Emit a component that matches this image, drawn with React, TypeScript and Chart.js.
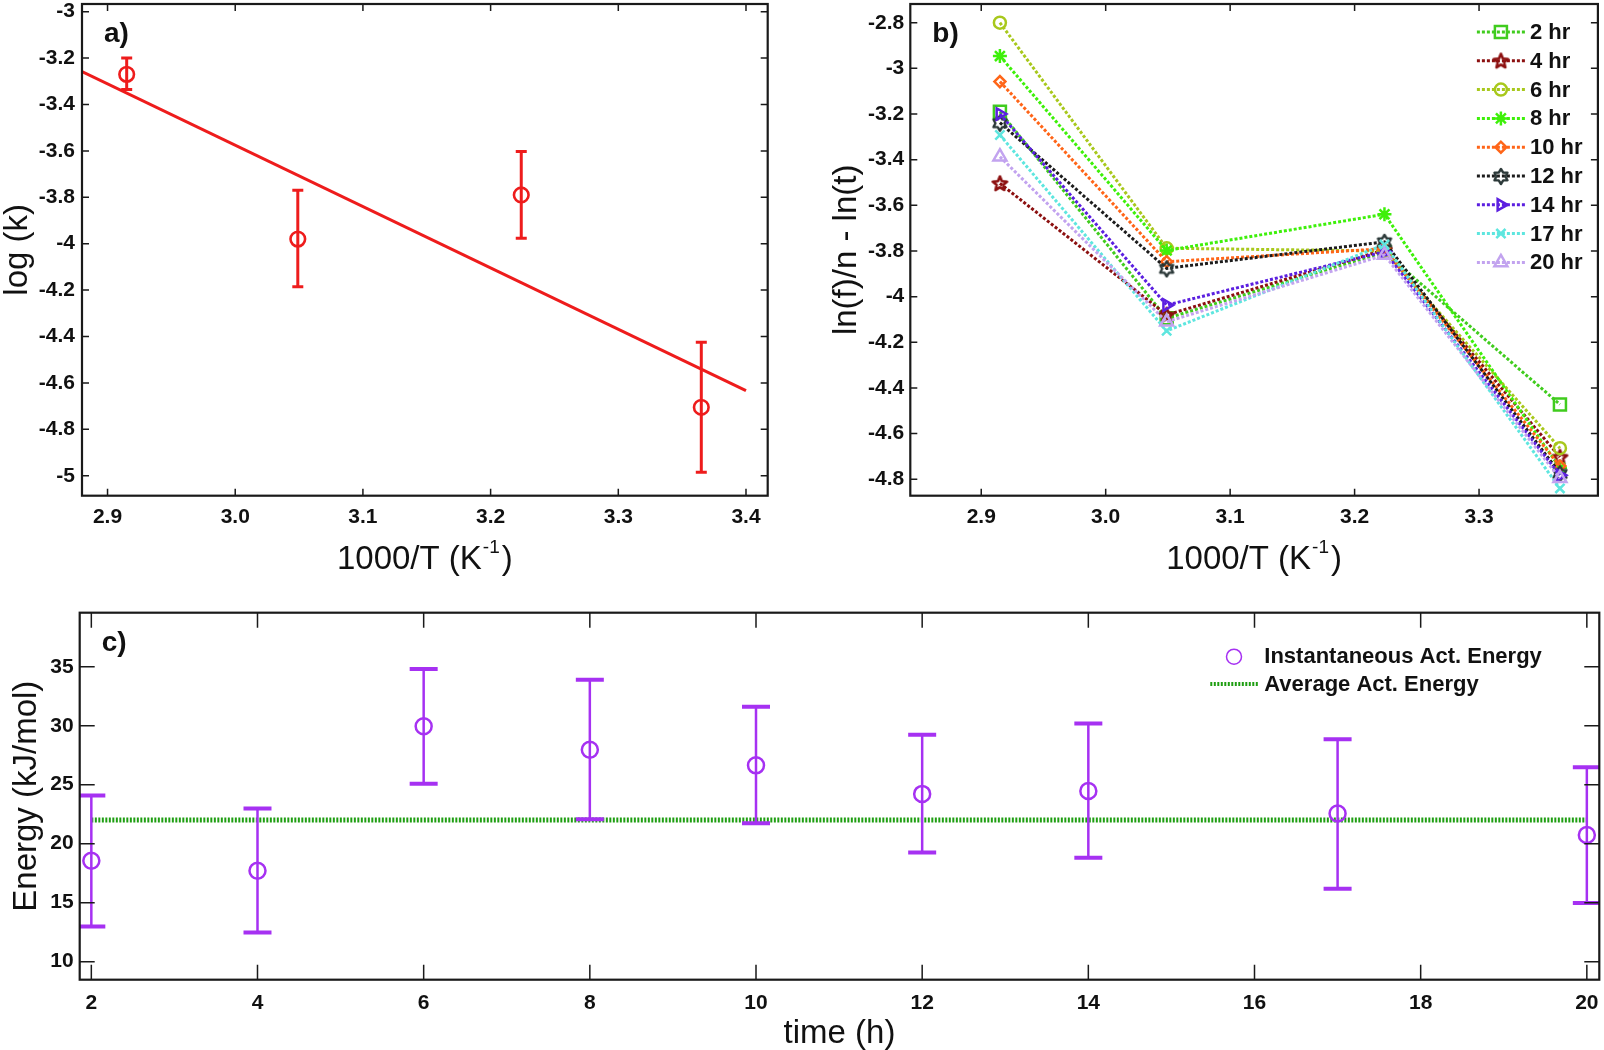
import { useEffect, useRef } from 'react'
import { Chart, registerables } from 'chart.js'
import { drawPoint } from 'chart.js/helpers'

Chart.register(...registerables)

// ---------- panel a: log(k) vs 1000/T ----------
const invT = [2.915, 3.049, 3.224, 3.365]
const logK = [-3.27, -3.98, -3.79, -4.705]
const logKLow = [-3.335, -4.185, -3.977, -4.985]
const logKHigh = [-3.2, -3.77, -3.603, -4.425]
const fitInvT = [2.88, 3.4]
const fitLogK = [-3.258, -4.633]
const aXTicks = [2.9, 3.0, 3.1, 3.2, 3.3, 3.4]
const aXLabels = ['2.9', '3.0', '3.1', '3.2', '3.3', '3.4']
const aYTicks = [-3, -3.2, -3.4, -3.6, -3.8, -4, -4.2, -4.4, -4.6, -4.8, -5]
const aYLabels = ['-3', '-3.2', '-3.4', '-3.6', '-3.8', '-4', '-4.2', '-4.4', '-4.6', '-4.8', '-5']

// ---------- panel b: ln(f)/n - ln(t) per reaction time ----------
const hourLabels = ['2 hr', '4 hr', '6 hr', '8 hr', '10 hr', '12 hr', '14 hr', '17 hr', '20 hr']
const lnf2hr = [-3.19, -4.095, -3.805, -4.472]
const lnf4hr = [-3.504, -4.08, -3.795, -4.703]
const lnf6hr = [-2.8, -3.788, -3.8, -4.664]
const lnf8hr = [-2.946, -3.798, -3.639, -4.75]
const lnf10hr = [-3.058, -3.847, -3.79, -4.742]
const lnf12hr = [-3.238, -3.876, -3.76, -4.774]
const lnf14hr = [-3.2, -4.037, -3.803, -4.782]
const lnf17hr = [-3.292, -4.15, -3.772, -4.84]
const lnf20hr = [-3.387, -4.11, -3.818, -4.796]
const bXTicks = [2.9, 3.0, 3.1, 3.2, 3.3]
const bXLabels = ['2.9', '3.0', '3.1', '3.2', '3.3']
const bYTicks = [-2.8, -3, -3.2, -3.4, -3.6, -3.8, -4, -4.2, -4.4, -4.6, -4.8]
const bYLabels = ['-2.8', '-3', '-3.2', '-3.4', '-3.6', '-3.8', '-4', '-4.2', '-4.4', '-4.6', '-4.8']

// ---------- panel c: activation energy vs time ----------
const timeH = [2, 4, 6, 8, 10, 12, 14, 17, 20]
const energy = [18.56, 17.71, 29.96, 27.96, 26.64, 24.22, 24.47, 22.56, 20.73]
const energyLow = [12.98, 12.48, 25.09, 22.08, 21.74, 19.26, 18.81, 16.19, 14.98]
const energyHigh = [24.08, 22.98, 34.8, 33.9, 31.6, 29.23, 30.19, 28.86, 26.47]
const avgTime = [2, 20]
const avgEnergy = [22, 22]
const cXTicks = [2, 4, 6, 8, 10, 12, 14, 16, 18, 20]
const cXLabels = ['2', '4', '6', '8', '10', '12', '14', '16', '18', '20']
const cYTicks = [10, 15, 20, 25, 30, 35]
const cYLabels = ['10', '15', '20', '25', '30', '35']

const FONT = "'Liberation Sans', Arial, Helvetica, sans-serif"
const INK = '#111'
const RED = '#ee1c1c'
const PURPLE = '#a631f2'
const AVG_GREEN = '#1f9e12'

// outlined star marker (pentagram / hexagram) drawn once on a small canvas
function starMarker(color: string, points: number, r: number, inner: number, lw: number) {
  const size = Math.ceil(2 * r + 2 * lw)
  const c = document.createElement('canvas')
  c.width = size
  c.height = size
  const g = c.getContext('2d')!
  g.strokeStyle = color
  g.lineWidth = lw
  g.lineJoin = 'round'
  g.beginPath()
  for (let k = 0; k < points * 2; k++) {
    const rad = k % 2 === 0 ? r : r * inner
    const ang = -Math.PI / 2 + (k * Math.PI) / points
    const px = size / 2 + rad * Math.cos(ang)
    const py = size / 2 + 0.5 + rad * Math.sin(ang)
    if (k === 0) g.moveTo(px, py)
    else g.lineTo(px, py)
  }
  g.closePath()
  g.stroke()
  return c
}

// error bars as one line dataset, broken by null points, with 'line' point caps
function whiskers(xs: number[], lo: number[], hi: number[]) {
  const pts: { x: number; y: number | null }[] = []
  xs.forEach((x, i) => {
    pts.push({ x, y: lo[i] }, { x, y: hi[i] }, { x, y: null })
  })
  return pts
}

// fixed box size; drop the label overflow padding so the plot box lands where we want it
function sized(prop: 'width' | 'height', size: number) {
  return (s: any) => {
    s[prop] = size
    s.paddingTop = 0
    s.paddingBottom = 0
    s.paddingLeft = 0
    s.paddingRight = 0
  }
}

function axis(min: number, max: number, values: number[], labels: string[], pad: number, fit: (s: any) => void, title?: any) {
  return {
    type: 'linear' as const,
    min,
    max,
    grid: { display: false, drawTicks: false },
    border: { display: false },
    afterBuildTicks: (s: any) => {
      s.ticks = values.map((value) => ({ value }))
    },
    afterFit: fit,
    ticks: {
      autoSkip: false,
      maxRotation: 0,
      padding: pad,
      color: INK,
      font: { family: FONT, size: 21, weight: 'bold' as const },
      callback: (_v: any, i: number) => labels[i],
    },
    title: title ?? { display: false },
  }
}

function yTitle(text: string, pad: number) {
  return {
    display: true,
    text,
    color: INK,
    font: { family: FONT, size: 33, lineHeight: 1 },
    padding: { top: pad, bottom: 0 },
  }
}

// box + inward ticks on all four sides (MATLAB style)
function frame(len: number) {
  return {
    id: 'frame',
    afterDatasetsDraw(chart: any) {
      const { ctx, chartArea, scales } = chart
      const { left, right, top, bottom } = chartArea
      ctx.save()
      ctx.strokeStyle = '#1a1a1a'
      ctx.lineWidth = 1.5
      ctx.beginPath()
      scales.x.ticks.forEach((t: any) => {
        const px = scales.x.getPixelForValue(t.value)
        ctx.moveTo(px, bottom)
        ctx.lineTo(px, bottom - len)
        ctx.moveTo(px, top)
        ctx.lineTo(px, top + len)
      })
      scales.y.ticks.forEach((t: any) => {
        const py = scales.y.getPixelForValue(t.value)
        ctx.moveTo(left, py)
        ctx.lineTo(left + len, py)
        ctx.moveTo(right, py)
        ctx.lineTo(right - len, py)
      })
      ctx.stroke()
      ctx.lineWidth = 2.2
      ctx.strokeRect(left, top, right - left, bottom - top)
      ctx.restore()
    },
  }
}

function panelTag(text: string) {
  return {
    id: 'panelTag',
    afterDraw(chart: any) {
      const { ctx, chartArea } = chart
      ctx.save()
      ctx.fillStyle = INK
      ctx.font = `bold 28px ${FONT}`
      ctx.textBaseline = 'alphabetic'
      ctx.textAlign = 'left'
      ctx.fillText(text, chartArea.left + 22, chartArea.top + 38)
      ctx.restore()
    },
  }
}

// "1000/T (K^-1)" with a real superscript
function invTTitle() {
  return {
    id: 'invTTitle',
    afterDraw(chart: any) {
      const { ctx, chartArea } = chart
      const main = '1000/T (K'
      const sup = '-1'
      const tail = ')'
      const big = `33px ${FONT}`
      const small = `19px ${FONT}`
      ctx.save()
      ctx.fillStyle = INK
      ctx.textBaseline = 'alphabetic'
      ctx.textAlign = 'left'
      ctx.font = big
      const w1 = ctx.measureText(main).width
      const w3 = ctx.measureText(tail).width
      ctx.font = small
      const w2 = ctx.measureText(sup).width
      let x = (chartArea.left + chartArea.right) / 2 - (w1 + w2 + 3 + w3) / 2
      const y = chartArea.bottom + 73
      ctx.font = big
      ctx.fillText(main, x, y)
      x += w1 + 1
      ctx.font = small
      ctx.fillText(sup, x, y - 16)
      x += w2 + 2
      ctx.font = big
      ctx.fillText(tail, x, y)
      ctx.restore()
    },
  }
}

function legendB() {
  return {
    id: 'legendB',
    afterDraw(chart: any) {
      const { ctx, chartArea } = chart
      ctx.save()
      chart.data.datasets.forEach((ds: any, i: number) => {
        const y = chartArea.top + 28 + i * 28.8
        const x0 = chartArea.right - 121
        const x1 = chartArea.right - 73
        ctx.strokeStyle = ds.borderColor
        ctx.lineWidth = ds.borderWidth
        ctx.setLineDash(ds.borderDash)
        ctx.beginPath()
        ctx.moveTo(x0, y)
        ctx.lineTo(x1, y)
        ctx.stroke()
        ctx.setLineDash([])
        ctx.fillStyle = 'rgba(0,0,0,0)'
        ctx.strokeStyle = ds.pointBorderColor
        ctx.lineWidth = ds.pointBorderWidth
        drawPoint(ctx, { pointStyle: ds.pointStyle, rotation: ds.pointRotation ?? 0, radius: ds.pointRadius, borderWidth: ds.pointBorderWidth }, (x0 + x1) / 2, y)
        ctx.fillStyle = INK
        ctx.font = `bold 22px ${FONT}`
        ctx.textBaseline = 'middle'
        ctx.textAlign = 'left'
        ctx.fillText(ds.label, chartArea.right - 68, y + 1)
      })
      ctx.restore()
    },
  }
}

function legendC() {
  return {
    id: 'legendC',
    afterDraw(chart: any) {
      const { ctx, chartArea } = chart
      const [avg, , pts] = chart.data.datasets
      const r = chartArea.right
      ctx.save()
      ctx.strokeStyle = PURPLE
      ctx.lineWidth = 1.5
      ctx.beginPath()
      ctx.arc(r - 365.3, chartArea.top + 44, 7.5, 0, Math.PI * 2)
      ctx.stroke()
      ctx.strokeStyle = AVG_GREEN
      ctx.lineWidth = 4
      ctx.setLineDash(avg.borderDash)
      ctx.beginPath()
      ctx.moveTo(r - 389, chartArea.top + 71.3)
      ctx.lineTo(r - 341, chartArea.top + 71.3)
      ctx.stroke()
      ctx.setLineDash([])
      ctx.fillStyle = INK
      ctx.font = `bold 22px ${FONT}`
      ctx.textBaseline = 'middle'
      ctx.textAlign = 'left'
      ctx.fillText(pts.label, r - 335, chartArea.top + 44)
      ctx.fillText(avg.label, r - 335, chartArea.top + 72)
      ctx.restore()
    },
  }
}

const baseOptions = {
  animation: false,
  responsive: false,
  events: [],
  plugins: { legend: { display: false }, tooltip: { enabled: false } },
}

function configA(): any {
  return {
    type: 'line',
    data: {
      datasets: [
        {
          label: 'fit',
          data: fitInvT.map((x, i) => ({ x, y: fitLogK[i] })),
          borderColor: RED,
          borderWidth: 3,
          pointRadius: 0,
          order: 3,
        },
        {
          label: 'error',
          data: whiskers(invT, logKLow, logKHigh),
          borderColor: RED,
          borderWidth: 3,
          spanGaps: false,
          pointStyle: 'line',
          pointRadius: 5.5,
          pointBorderWidth: 3,
          pointBorderColor: RED,
          order: 2,
        },
        {
          label: 'log k',
          data: invT.map((x, i) => ({ x, y: logK[i] })),
          showLine: false,
          pointStyle: 'circle',
          pointRadius: 7.3,
          pointBorderWidth: 2.6,
          pointBorderColor: RED,
          pointBackgroundColor: 'rgba(0,0,0,0)',
          order: 1,
        },
      ],
    },
    options: {
      ...baseOptions,
      layout: { autoPadding: false, padding: { left: 0, right: 32.3, top: 4, bottom: 0 } },
      scales: {
        x: axis(2.88, 3.417, aXTicks, aXLabels, 9, sized('height', 94.3)),
        y: axis(-5.086, -2.967, aYTicks, aYLabels, 7, sized('width', 82), yTitle('log (k)', 1.5)),
      },
    },
    plugins: [frame(7), panelTag('a)'), invTTitle()],
  }
}

function configB(): any {
  const series = [lnf2hr, lnf4hr, lnf6hr, lnf8hr, lnf10hr, lnf12hr, lnf14hr, lnf17hr, lnf20hr]
  const styles: { color: string; mark?: string; marker: any; radius: number; rotation?: number }[] = [
    { color: '#40cc1e', marker: 'rect', radius: 8.5 },
    { color: '#8c1010', marker: starMarker('#8c1010', 5, 7.5, 0.45, 2.6), radius: 7 },
    { color: '#a8c81c', marker: 'circle', radius: 6 },
    { color: '#3ef00a', marker: 'star', radius: 7 },
    { color: '#ff6518', marker: 'rectRot', radius: 5.5 },
    { color: '#1c1c1c', mark: '#2b3838', marker: starMarker('#2b3838', 6, 7.5, 0.6, 2.4), radius: 7 },
    { color: '#5b1fe0', marker: 'triangle', radius: 6.5, rotation: 90 },
    { color: '#5ee6df', marker: 'crossRot', radius: 6.5 },
    { color: '#c2a3ef', marker: 'triangle', radius: 7.5 },
  ]
  return {
    type: 'line',
    data: {
      datasets: series.map((vals, i) => ({
        label: hourLabels[i],
        data: invT.map((x, j) => ({ x, y: vals[j] })),
        borderColor: styles[i].color,
        borderWidth: 3,
        borderDash: [3, 2],
        pointStyle: styles[i].marker,
        pointRotation: styles[i].rotation ?? 0,
        pointRadius: styles[i].radius,
        pointBorderWidth: 2.5,
        pointBorderColor: styles[i].mark ?? styles[i].color,
        pointBackgroundColor: 'rgba(0,0,0,0)',
        order: series.length - i,
      })),
    },
    options: {
      ...baseOptions,
      layout: { autoPadding: false, padding: { left: 0, right: 6.1, top: 4, bottom: 0 } },
      scales: {
        x: axis(2.843, 3.3955, bXTicks, bXLabels, 9, sized('height', 94.3)),
        y: axis(-4.872, -2.718, bYTicks, bYLabels, 6, sized('width', 110.3), yTitle('ln(f)/n - ln(t)', 30.5)),
      },
    },
    plugins: [frame(7), panelTag('b)'), invTTitle(), legendB()],
  }
}

function configC(): any {
  return {
    type: 'line',
    data: {
      datasets: [
        {
          label: 'Average Act. Energy',
          data: avgTime.map((x, i) => ({ x, y: avgEnergy[i] })),
          borderColor: AVG_GREEN,
          borderWidth: 5,
          borderDash: [2, 1.5],
          pointRadius: 0,
          order: 3,
        },
        {
          label: 'error',
          data: whiskers(timeH, energyLow, energyHigh),
          borderColor: PURPLE,
          borderWidth: 2.5,
          spanGaps: false,
          pointStyle: 'line',
          pointRadius: 14,
          pointBorderWidth: 4,
          pointBorderColor: PURPLE,
          order: 2,
        },
        {
          label: 'Instantaneous Act. Energy',
          data: timeH.map((x, i) => ({ x, y: energy[i] })),
          showLine: false,
          pointStyle: 'circle',
          pointRadius: 8,
          pointBorderWidth: 2.5,
          pointBorderColor: PURPLE,
          pointBackgroundColor: 'rgba(0,0,0,0)',
          order: 1,
        },
      ],
    },
    options: {
      ...baseOptions,
      layout: { autoPadding: false, padding: { left: 0, right: 4.7, top: 22.7, bottom: 0 } },
      scales: {
        x: axis(1.86, 20.15, cXTicks, cXLabels, 11, sized('height', 70.3), {
          display: true,
          text: 'time (h)',
          color: INK,
          font: { family: FONT, size: 33, lineHeight: 1 },
          padding: { top: 0, bottom: 0 },
        }),
        y: axis(8.47, 39.58, cYTicks, cYLabels, 6, sized('width', 79.7), yTitle('Energy (kJ/mol)', 10)),
      },
    },
    plugins: [frame(15), panelTag('c)'), legendC()],
  }
}

function Panel({ make, left, top, width, height }: { make: () => any; left: number; top: number; width: number; height: number }) {
  const canvasRef = useRef<HTMLCanvasElement>(null)
  useEffect(() => {
    if (!canvasRef.current) return
    const chart = new Chart(canvasRef.current, make())
    return () => chart.destroy()
  }, [make])
  return (
    <canvas
      ref={canvasRef}
      width={width}
      height={height}
      style={{ position: 'absolute', left, top, width, height }}
    />
  )
}

export default function App() {
  return (
    <div style={{ position: 'absolute', left: 0, top: 0, width: 1604, height: 1050, background: '#fff', overflow: 'hidden' }}>
      <Panel make={configA} left={0} top={0} width={800} height={590} />
      <Panel make={configB} left={800} top={0} width={804} height={590} />
      <Panel make={configC} left={0} top={590} width={1604} height={460} />
    </div>
  )
}
